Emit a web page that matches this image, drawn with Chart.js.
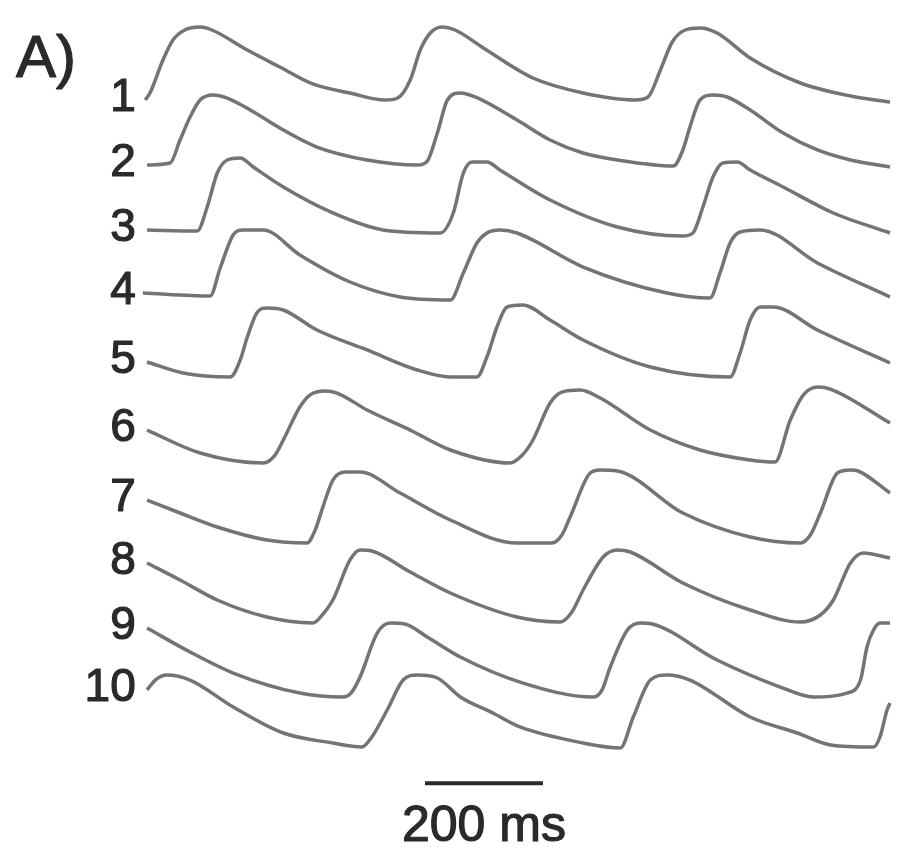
<!DOCTYPE html>
<html>
<head>
<meta charset="utf-8">
<script src="https://cdn.jsdelivr.net/npm/chart.js@4.4.1/dist/chart.umd.min.js"></script>
<style>
  html, body { margin: 0; padding: 0; background: #ffffff; }
  canvas { display: block; }
</style>
</head>
<body>
<canvas id="traces" width="903" height="856"></canvas>
<script>
// time in ms, membrane potential in mV
const traceLabels = ["1", "2", "3", "4", "5", "6", "7", "8", "9", "10"];

const trace1 = [[-3,-80],[5,-70],[27,-22.9],[44,5.7],[64,20],[90,24.3],[110,20],[170,-8.6],[225,-32.9],[281,-57.1],[344,-70],[403,-80],[425,-77.1],[446,-51.4],[463,-8.6],[480,15.7],[500,24.3],[522,20],[570,-5.7],[654,-48.6],[739,-70],[827,-80],[849,-75.7],[870,-37.1],[890,2.9],[912,20],[937,22.9],[966,15.7],[1022,-20],[1107,-55.7],[1192,-74.3],[1259,-82.9]];
const trace2 = [[0,-78.6],[39,-75.7],[56,-42.9],[73,-10],[90,14.3],[112,21.4],[136,17.1],[175,0],[231,-28.6],[288,-52.9],[373,-71.4],[458,-78.6],[475,-72.9],[492,-32.9],[509,14.3],[531,24.3],[556,18.6],[627,-14.3],[683,-42.9],[739,-61.4],[797,-71.4],[892,-80],[908,-57.1],[920,-24.3],[937,14.3],[959,21.4],[983,18.6],[1022,0],[1078,-32.9],[1136,-57.1],[1192,-71.4],[1259,-81.4]];
const trace3 = [[0,-75.7],[85,-77.1],[102,-42.9],[119,5.7],[136,24.3],[158,27.1],[180,14.3],[231,-14.3],[315,-51.4],[400,-75.7],[497,-80],[519,-51.4],[536,5.7],[551,21.4],[576,21.4],[598,10],[683,-32.9],[797,-71.4],[907,-84.3],[925,-80],[942,-42.9],[959,0],[976,20],[1000,21.4],[1022,10],[1078,-14.3],[1163,-51.4],[1259,-80]];
const trace4 = [[-7,-70],[107,-74.3],[124,-34.3],[146,12.9],[163,20],[197,20],[259,-15.7],[344,-54.3],[429,-75.7],[514,-80],[536,-41.4],[559,1.4],[576,15.7],[598,20],[627,15.7],[739,-32.9],[881,-70],[954,-77.1],[971,-41.4],[988,1.4],[1005,17.1],[1039,20],[1136,-27.1],[1259,-75.7]];
const trace5 = [[0,-58.6],[61,-74.3],[141,-80],[158,-55.7],[170,-22.9],[186,11.4],[203,18.6],[231,15.7],[288,-12.9],[373,-41.4],[458,-70],[514,-80],[559,-80],[576,-51.4],[593,-8.6],[610,20],[637,22.9],[683,1.4],[739,-27.1],[853,-65.7],[988,-80],[1005,-45.7],[1022,1.4],[1039,20],[1061,20],[1136,-12.9],[1259,-60]];
const trace6 = [[0,-32.9],[90,-65.7],[197,-80],[217,-68.6],[231,-47.1],[259,0],[276,17.1],[302,22.9],[322,20],[373,-4.3],[446,-32.9],[514,-61.4],[615,-80],[636,-68.6],[654,-47.1],[683,5.7],[703,21.4],[734,24.3],[768,12.9],[853,-32.9],[937,-61.4],[1022,-75.7],[1064,-78.6],[1090,-18.6],[1112,17.1],[1137,28.6],[1158,25.7],[1259,-22.9]];
const trace7 = [[0,-18.6],[56,-37.1],[119,-57.1],[203,-75.7],[271,-80],[285,-61.4],[298,-28.6],[315,10],[336,21.4],[361,21.4],[429,-8.6],[514,-47.1],[627,-80],[686,-80],[703,-68.6],[717,-42.9],[751,20],[768,24.3],[797,22.9],[908,-37.1],[1022,-71.4],[1107,-80],[1124,-68.6],[1141,-37.1],[1170,20],[1192,24.3],[1205,22.9],[1259,-8.6]];
const trace8 = [[0,4.3],[56,-20],[119,-48.6],[203,-72.9],[281,-81.4],[297,-70],[315,-48.6],[344,8.6],[361,22.9],[381,21.4],[446,-8.6],[514,-38.6],[627,-72.9],[700,-80],[720,-65.7],[739,-34.3],[773,12.9],[797,22.9],[819,20],[908,-24.3],[1022,-62.9],[1107,-80],[1141,-70],[1163,-48.6],[1192,4.3],[1214,18.6],[1259,11.4]];
const trace9 = [[0,18.6],[73,-15.7],[146,-45.7],[259,-74.3],[332,-80],[347,-72.9],[361,-51.4],[390,11.4],[412,25.7],[437,24.3],[475,5.7],[531,-22.9],[632,-58.6],[756,-80],[771,-70],[785,-37.1],[814,15.7],[836,25.7],[856,24.3],[966,-27.1],[1073,-65.7],[1129,-80],[1186,-74.3],[1209,-55.7],[1220,-8.6],[1231,15.7],[1242,25.7],[1259,25.7]];
const trace10 = [[0,2.9],[14,17.1],[34,24.3],[73,17.1],[146,-21.4],[231,-58.6],[315,-72.9],[364,-78.6],[381,-64.3],[407,-25.7],[434,17.1],[458,24.3],[492,20],[531,-7.1],[586,-30],[632,-50],[739,-72.9],[802,-80],[824,-35.7],[853,17.1],[881,24.3],[920,17.1],[1022,-35.7],[1102,-58.6],[1158,-75.7],[1231,-78.6],[1242,-64.3],[1254,-25.7],[1259,-15.7]];

const traces = [trace1, trace2, trace3, trace4, trace5, trace6, trace7, trace8, trace9, trace10];

// vertical stacking of the traces (mV added to each)
const traceOffsets = [1160, 1065.7, 970, 874.3, 764.3, 641.4, 527.1, 414.3, 307.1, 234.3];

const scaleBarStart = 471;
const scaleBarMs = 200;
const scaleBarLevel = 104;

const TRACE_COLOR = "#747474";
const TEXT_COLOR = "#2a2a2a";
const FONT = "'Liberation Sans', Arial, Helvetica, sans-serif";

function heavyText(ctx, txt, px, py) {
  ctx.fillText(txt, px, py);
  ctx.strokeText(txt, px, py);
}

const overlay = {
  id: "overlay",
  afterDraw(chart) {
    const ctx = chart.ctx;
    const x = chart.scales.x;
    const y = chart.scales.y;

    ctx.save();
    ctx.fillStyle = TEXT_COLOR;
    ctx.strokeStyle = TEXT_COLOR;
    ctx.lineWidth = 1.2;
    ctx.lineJoin = "round";

    // trace numbers
    ctx.font = `46px ${FONT}`;
    ctx.textAlign = "right";
    ctx.textBaseline = "middle";
    traces.forEach((tr, i) => {
      heavyText(
        ctx,
        traceLabels[i],
        x.getPixelForValue(-19),
        y.getPixelForValue(tr[0][1] + traceOffsets[i]) - 2
      );
    });

    // panel letter
    ctx.font = `60px ${FONT}`;
    ctx.textAlign = "left";
    ctx.textBaseline = "alphabetic";
    heavyText(ctx, "A)", 16, 77);

    // scale bar
    const x0 = x.getPixelForValue(scaleBarStart);
    const x1 = x.getPixelForValue(scaleBarStart + scaleBarMs);
    const yb = y.getPixelForValue(scaleBarLevel);
    ctx.lineWidth = 4;
    ctx.beginPath();
    ctx.moveTo(x0, yb);
    ctx.lineTo(x1, yb);
    ctx.stroke();

    ctx.lineWidth = 1.2;
    ctx.font = `50px ${FONT}`;
    ctx.textAlign = "center";
    heavyText(ctx, `${scaleBarMs} ms`, (x0 + x1) / 2, 841);

    ctx.restore();
  }
};

new Chart(
  document.getElementById("traces"),
  {
    type: "line",
    data: {
      datasets: traces.map((tr, i) => ({
        label: traceLabels[i],
        data: tr.map(p => ({ x: p[0], y: p[1] + traceOffsets[i] })),
        borderColor: TRACE_COLOR,
        borderWidth: 3.5,
        pointRadius: 0,
        cubicInterpolationMode: "monotone",
        fill: false,
        clip: false
      }))
    },
    options: {
      responsive: false,
      animation: false,
      devicePixelRatio: 1,
      layout: { padding: { left: 147, right: 13, top: 0, bottom: 0 } },
      plugins: {
        legend: { display: false },
        tooltip: { enabled: false }
      },
      scales: {
        x: { type: "linear", min: 0, max: 1259, display: false },
        y: { type: "linear", min: 0, max: 1222.86, display: false }
      }
    },
    plugins: [overlay]
  }
);
</script>
</body>
</html>
